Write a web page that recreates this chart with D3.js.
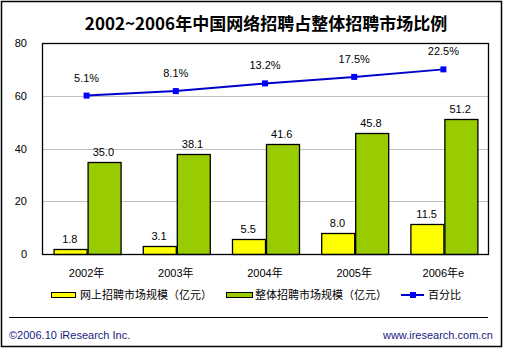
<!DOCTYPE html>
<html>
<head>
<meta charset="utf-8">
<script src="https://cdn.jsdelivr.net/npm/d3@7"></script>
<style>
  body { margin: 0; background: #fff; }
  text { font-family: 'Liberation Sans', 'Noto Sans CJK SC', sans-serif; }
</style>
</head>
<body>
<div id="chart"></div>
<script>
const categories = ['2002年', '2003年', '2004年', '2005年', '2006年e']
const onlineSize = [1.8, 3.1, 5.5, 8.0, 11.5]
const totalSize = [35.0, 38.1, 41.6, 45.8, 51.2]
const percent = [5.1, 8.1, 13.2, 17.5, 22.5]
const yTicks = [0, 20, 40, 60, 80]
const seriesNames = ['网上招聘市场规模（亿元）', '整体招聘市场规模（亿元）', '百分比']

const width = 505
const height = 352
const margin = { top: 43, right: 17, bottom: 98, left: 42 }
const innerWidth = width - margin.left - margin.right
const innerHeight = height - margin.top - margin.bottom

const svg = d3.select('#chart').append('svg')
  .attr('width', width)
  .attr('height', height)

// outer frame
svg.append('rect')
  .attr('x', 1.5).attr('y', 1.5)
  .attr('width', 500).attr('height', 345)
  .attr('fill', '#fff')
  .attr('stroke', '#000')
  .attr('stroke-width', 1.5)

svg.append('text')
  .attr('x', 266)
  .attr('y', 30)
  .attr('text-anchor', 'middle')
  .style('font-family', "'Noto Sans CJK SC', sans-serif")
  .style('font-size', '17px')
  .style('font-weight', 'bold')
  .text('2002~2006年中国网络招聘占整体招聘市场比例')

const g = svg.append('g')
  .attr('transform', 'translate(' + margin.left + ',' + margin.top + ')')

const x0 = d3.scaleBand()
  .domain(categories)
  .range([0, innerWidth])
  .paddingInner(0.26)
  .paddingOuter(0.13)

const x1 = d3.scaleBand()
  .domain(['online', 'total'])
  .range([0, x0.bandwidth()])
  .paddingInner(0.03)

const y = d3.scaleLinear().domain([0, 80]).range([innerHeight, 0])
// hidden secondary axis for the percentage line
const y2 = d3.scaleLinear().domain([-100, 40]).range([innerHeight, 0])

// gridlines
g.selectAll('.grid')
  .data(yTicks.slice(1, -1))
  .enter().append('line')
  .attr('x1', 0).attr('x2', innerWidth)
  .attr('y1', d => Math.round(y(d)) + 0.5)
  .attr('y2', d => Math.round(y(d)) + 0.5)
  .attr('stroke', '#c0c0c0')

// y axis labels
const yAxis = g.append('g')
  .call(d3.axisLeft(y).tickValues(yTicks).tickSize(0).tickPadding(15))
yAxis.select('.domain').remove()
yAxis.selectAll('text')
  .style('font-size', '11px')
  .style('font-family', "'Liberation Sans', sans-serif")
  .attr('fill', '#000')

const rows = categories.map((c, i) => ({ cat: c, online: onlineSize[i], total: totalSize[i], pct: percent[i] }))

const groups = g.selectAll('.group')
  .data(rows)
  .enter().append('g')
  .attr('transform', d => 'translate(' + x0(d.cat) + ',0)')

const barColors = { online: '#ffff00', total: '#99cc00' }

groups.selectAll('rect')
  .data(d => ['online', 'total'].map(k => ({ key: k, value: d[k] })))
  .enter().append('rect')
  .attr('x', d => Math.round(x1(d.key)) + 0.5)
  .attr('y', d => Math.round(y(d.value)) + 0.5)
  .attr('width', Math.round(x1.bandwidth()))
  .attr('height', d => Math.round(innerHeight) - Math.round(y(d.value)))
  .attr('fill', d => barColors[d.key])
  .attr('stroke', '#000')
  .attr('stroke-width', 1.3)

groups.selectAll('.val')
  .data(d => ['online', 'total'].map(k => ({ key: k, value: d[k] })))
  .enter().append('text')
  .attr('x', d => x1(d.key) + x1.bandwidth() / 2)
  .attr('y', d => y(d.value) - 6)
  .attr('text-anchor', 'middle')
  .style('font-size', '11px')
  .text(d => d.value.toFixed(1))

// percentage line
const line = d3.line()
  .x(d => x0(d.cat) + x0.bandwidth() / 2)
  .y(d => y2(d.pct))

g.append('path')
  .datum(rows)
  .attr('d', line)
  .attr('fill', 'none')
  .attr('stroke', '#0000cc')
  .attr('stroke-width', 2)

g.selectAll('.pt')
  .data(rows)
  .enter().append('rect')
  .attr('x', d => x0(d.cat) + x0.bandwidth() / 2 - 3)
  .attr('y', d => y2(d.pct) - 3)
  .attr('width', 6).attr('height', 6)
  .attr('fill', '#0000ff')

g.selectAll('.pct')
  .data(rows)
  .enter().append('text')
  .attr('x', d => x0(d.cat) + x0.bandwidth() / 2)
  .attr('y', d => y2(d.pct) - 14)
  .attr('text-anchor', 'middle')
  .style('font-size', '11px')
  .text(d => d.pct.toFixed(1) + '%')

// plot frame
g.append('rect')
  .attr('x', 0.5).attr('y', 0.5)
  .attr('width', innerWidth).attr('height', innerHeight)
  .attr('fill', 'none')
  .attr('stroke', '#000')
  .attr('stroke-width', 1.3)

// x labels
g.selectAll('.xl')
  .data(categories)
  .enter().append('text')
  .attr('x', d => x0(d) + x0.bandwidth() / 2)
  .attr('y', innerHeight + 23)
  .attr('text-anchor', 'middle')
  .style('font-size', '11px')
  .text(d => d)

// legend
const legend = svg.append('g')
legend.append('rect')
  .attr('x', 51.5).attr('y', 292.5).attr('width', 24).attr('height', 5)
  .attr('fill', barColors.online).attr('stroke', '#000')
legend.append('rect')
  .attr('x', 226.5).attr('y', 292.5).attr('width', 26).attr('height', 5)
  .attr('fill', barColors.total).attr('stroke', '#000')
legend.append('line')
  .attr('x1', 401).attr('x2', 424).attr('y1', 295).attr('y2', 295)
  .attr('stroke', '#0000cc').attr('stroke-width', 2)
legend.append('rect')
  .attr('x', 410).attr('y', 292).attr('width', 6).attr('height', 6)
  .attr('fill', '#0000ff')

const legendX = [80, 255, 428]
legend.selectAll('.lt')
  .data(seriesNames)
  .enter().append('text')
  .attr('x', (d, i) => legendX[i])
  .attr('y', 299)
  .style('font-family', "'Noto Sans CJK SC', sans-serif")
  .style('font-size', '11px')
  .text(d => d)

// footer
svg.append('line')
  .attr('x1', 9).attr('x2', 488)
  .attr('y1', 317.5).attr('y2', 317.5)
  .attr('stroke', '#000')

svg.append('text')
  .attr('x', 9).attr('y', 339)
  .style('font-size', '11px')
  .attr('fill', '#1a1a80')
  .text('©2006.10 iResearch Inc.')

svg.append('text')
  .attr('x', 493).attr('y', 339)
  .attr('text-anchor', 'end')
  .style('font-size', '11px')
  .attr('fill', '#1a1a80')
  .text('www.iresearch.com.cn')
</script>
</body>
</html>
